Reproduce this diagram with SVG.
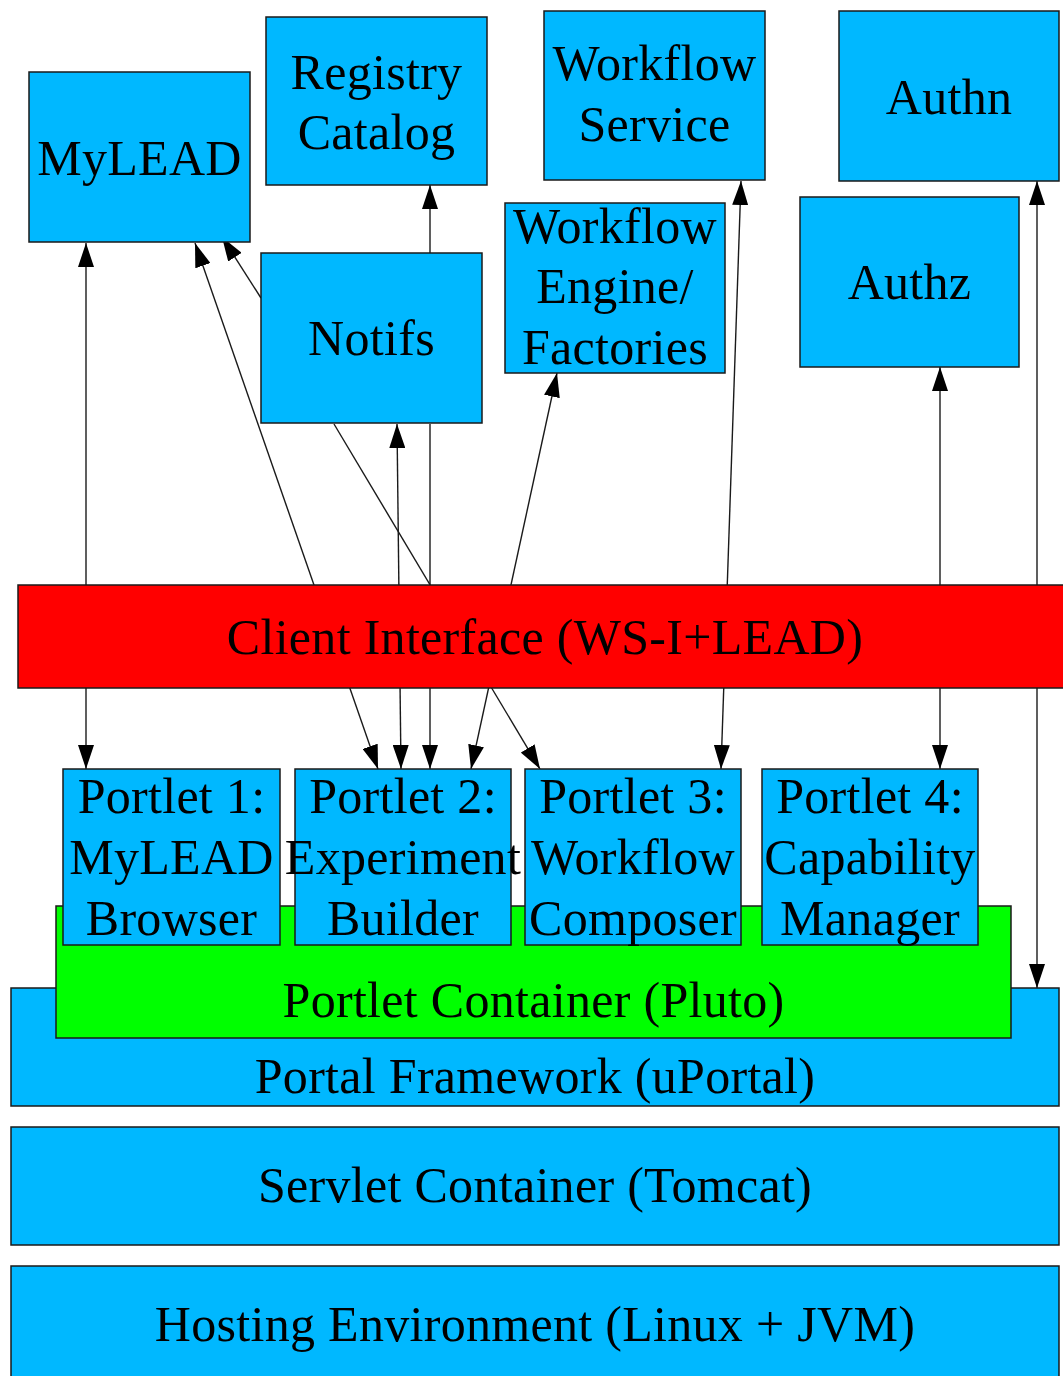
<svg xmlns="http://www.w3.org/2000/svg" width="1063" height="1376" viewBox="0 0 1063 1376">
<style>
  .b { fill: #00B8FF; stroke: #1a1a1a; stroke-width: 1.5; }
  .t { font-family: "Liberation Serif", "Times New Roman", serif; font-size: 50px; fill: #000; text-anchor: middle; letter-spacing: 0.3px; }
  .e { stroke: #1a1a1a; stroke-width: 1.4; fill: none; }
  .a { marker-end: url(#ah); }
  .bi { marker-start: url(#ah); marker-end: url(#ah); }
</style>
<defs>
  <marker id="ah" markerUnits="userSpaceOnUse" markerWidth="24" markerHeight="16" refX="24" refY="8" orient="auto-start-reverse">
    <path d="M0,0 L24,8 L0,16 z" fill="#000"/>
  </marker>
</defs>
<rect width="1063" height="1376" fill="#fff"/>
<g id="connectors">
  <line class="e bi" x1="86" y1="243" x2="86" y2="769"/>
  <line class="e bi" x1="195" y1="243" x2="378" y2="769"/>
  <line class="e a" x1="261" y1="298" x2="222" y2="237"/>
  <line class="e a" x1="430" y1="253" x2="430" y2="185"/>
  <line class="e bi" x1="397" y1="424" x2="401" y2="769"/>
  <line class="e a" x1="430" y1="424" x2="430" y2="769"/>
  <line class="e a" x1="334" y1="424" x2="540" y2="769"/>
  <line class="e bi" x1="557" y1="373" x2="471" y2="769"/>
  <line class="e bi" x1="741" y1="181" x2="721" y2="769"/>
  <line class="e bi" x1="940" y1="367" x2="940" y2="769"/>
  <line class="e bi" x1="1037" y1="181" x2="1037" y2="988"/>
</g>
<g id="mylead"><rect class="b" x="29" y="72" width="221" height="170"/><text class="t" x="139.5" y="175">MyLEAD</text></g>
<g id="registry"><rect class="b" x="266" y="17" width="221" height="168"/><text class="t" x="376.5" y="89">Registry</text><text class="t" x="376.5" y="149">Catalog</text></g>
<g id="wfservice"><rect class="b" x="544" y="11" width="221" height="169"/><text class="t" x="654.5" y="80">Workflow</text><text class="t" x="654.5" y="141">Service</text></g>
<g id="authn"><rect class="b" x="839" y="11" width="220" height="170"/><text class="t" x="949" y="114">Authn</text></g>
<g id="wfengine"><rect class="b" x="505" y="203" width="220" height="170"/><text class="t" x="615" y="243">Workflow</text><text class="t" x="615" y="303">Engine/</text><text class="t" x="615" y="364">Factories</text></g>
<g id="authz"><rect class="b" x="800" y="197" width="219" height="170"/><text class="t" x="909.5" y="299">Authz</text></g>
<g id="notifs"><rect class="b" x="261" y="253" width="221" height="170"/><text class="t" x="371.5" y="355">Notifs</text></g>
<g id="client"><rect x="18" y="585" width="1054" height="103" fill="#FF0000" stroke="#1a1a1a" stroke-width="1.5"/><text class="t" x="545" y="654">Client Interface (WS-I+LEAD)</text></g>
<g id="portal"><rect class="b" x="11" y="988" width="1048" height="118"/><text class="t" x="535" y="1093">Portal Framework (uPortal)</text></g>
<g id="pluto"><rect x="56" y="906" width="955" height="132" fill="#00FF00" stroke="#1a1a1a" stroke-width="1.5"/><text class="t" x="533.5" y="1017">Portlet Container (Pluto)</text></g>
<g id="portlet1"><rect class="b" x="63" y="769" width="217" height="176"/><text class="t" x="171.5" y="813">Portlet 1:</text><text class="t" x="171.5" y="874">MyLEAD</text><text class="t" x="171.5" y="935">Browser</text></g>
<g id="portlet2"><rect class="b" x="295" y="769" width="216" height="176"/><text class="t" x="403" y="813">Portlet 2:</text><text class="t" x="403" y="874">Experiment</text><text class="t" x="403" y="935">Builder</text></g>
<g id="portlet3"><rect class="b" x="525" y="769" width="216" height="176"/><text class="t" x="633" y="813">Portlet 3:</text><text class="t" x="633" y="874">Workflow</text><text class="t" x="633" y="935">Composer</text></g>
<g id="portlet4"><rect class="b" x="762" y="769" width="216" height="176"/><text class="t" x="870" y="813">Portlet 4:</text><text class="t" x="870" y="874">Capability</text><text class="t" x="870" y="935">Manager</text></g>
<g id="servlet"><rect class="b" x="11" y="1127" width="1048" height="118"/><text class="t" x="535" y="1202">Servlet Container (Tomcat)</text></g>
<g id="hosting"><rect class="b" x="11" y="1266" width="1048" height="120"/><text class="t" x="535" y="1341">Hosting Environment (Linux + JVM)</text></g>
</svg>
